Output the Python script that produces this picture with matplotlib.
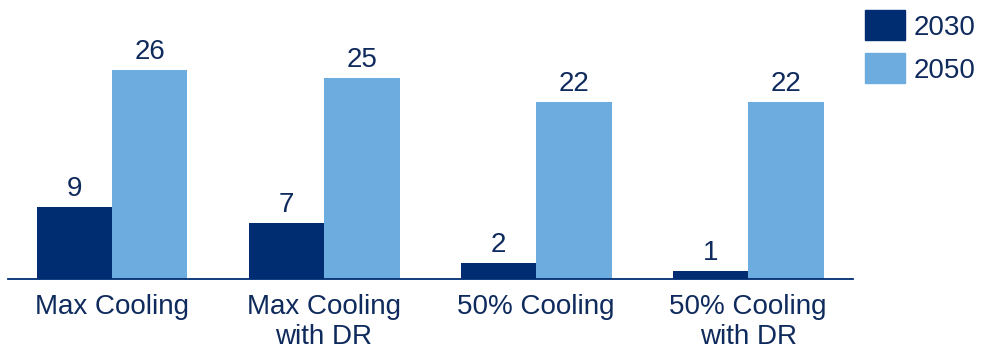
import matplotlib
matplotlib.use("Agg")
import matplotlib.pyplot as plt
from matplotlib.patches import Rectangle
import numpy as np

plt.rcParams['font.family'] = ['Liberation Sans', 'DejaVu Sans']

categories = ["Max Cooling", "Max Cooling\nwith DR", "50% Cooling", "50% Cooling\nwith DR"]
years = ["2030", "2050"]
values_2030 = [9, 7, 2, 1]
values_2050 = [26, 25, 22, 22]

dark = "#002D72"
light = "#6CACDE"
text_color = "#0F2A5C"
fs = 20

W, H = 981, 354
fig = plt.figure(figsize=(W / 100, H / 100), dpi=100)
ax = fig.add_axes([8 / W, 75 / H, 845 / W, 273 / H])

x = np.arange(len(categories))
w = 0.356
b1 = ax.bar(x - w / 2, values_2030, w, color=dark, label=years[0])
b2 = ax.bar(x + w / 2, values_2050, w, color=light, label=years[1])

for bars, vals in ((b1, values_2030), (b2, values_2050)):
    for rect, v in zip(bars, vals):
        ax.annotate(f"{v}", (rect.get_x() + rect.get_width() / 2, v),
                    xytext=(0, 8), textcoords="offset points",
                    ha="center", va="baseline", fontsize=fs, color=text_color)

ax.set_xlim(-0.4906, 3.495)
ax.set_ylim(0, 34)
ax.set_xticks(x)
ax.set_xticklabels(categories, fontsize=fs, color=text_color, linespacing=1.2)
ax.tick_params(axis="x", length=0, pad=11)
ax.set_yticks([])
for s in ("top", "right", "left"):
    ax.spines[s].set_visible(False)
ax.spines["bottom"].set_color(dark)
ax.spines["bottom"].set_linewidth(1.3)

# legend: colour swatches with year labels in the top-right corner
for (top, color, label) in ((10, dark, years[0]), (53, light, years[1])):
    fig.patches.append(Rectangle((865 / W, 1 - (top + 30) / H), 40 / W, 30 / H,
                                 transform=fig.transFigure, color=color))
    fig.text(914 / W, 1 - (top + 15) / H, label, fontsize=fs, color=text_color,
             ha="left", va="center_baseline")

fig.savefig("out.png", dpi=100)
